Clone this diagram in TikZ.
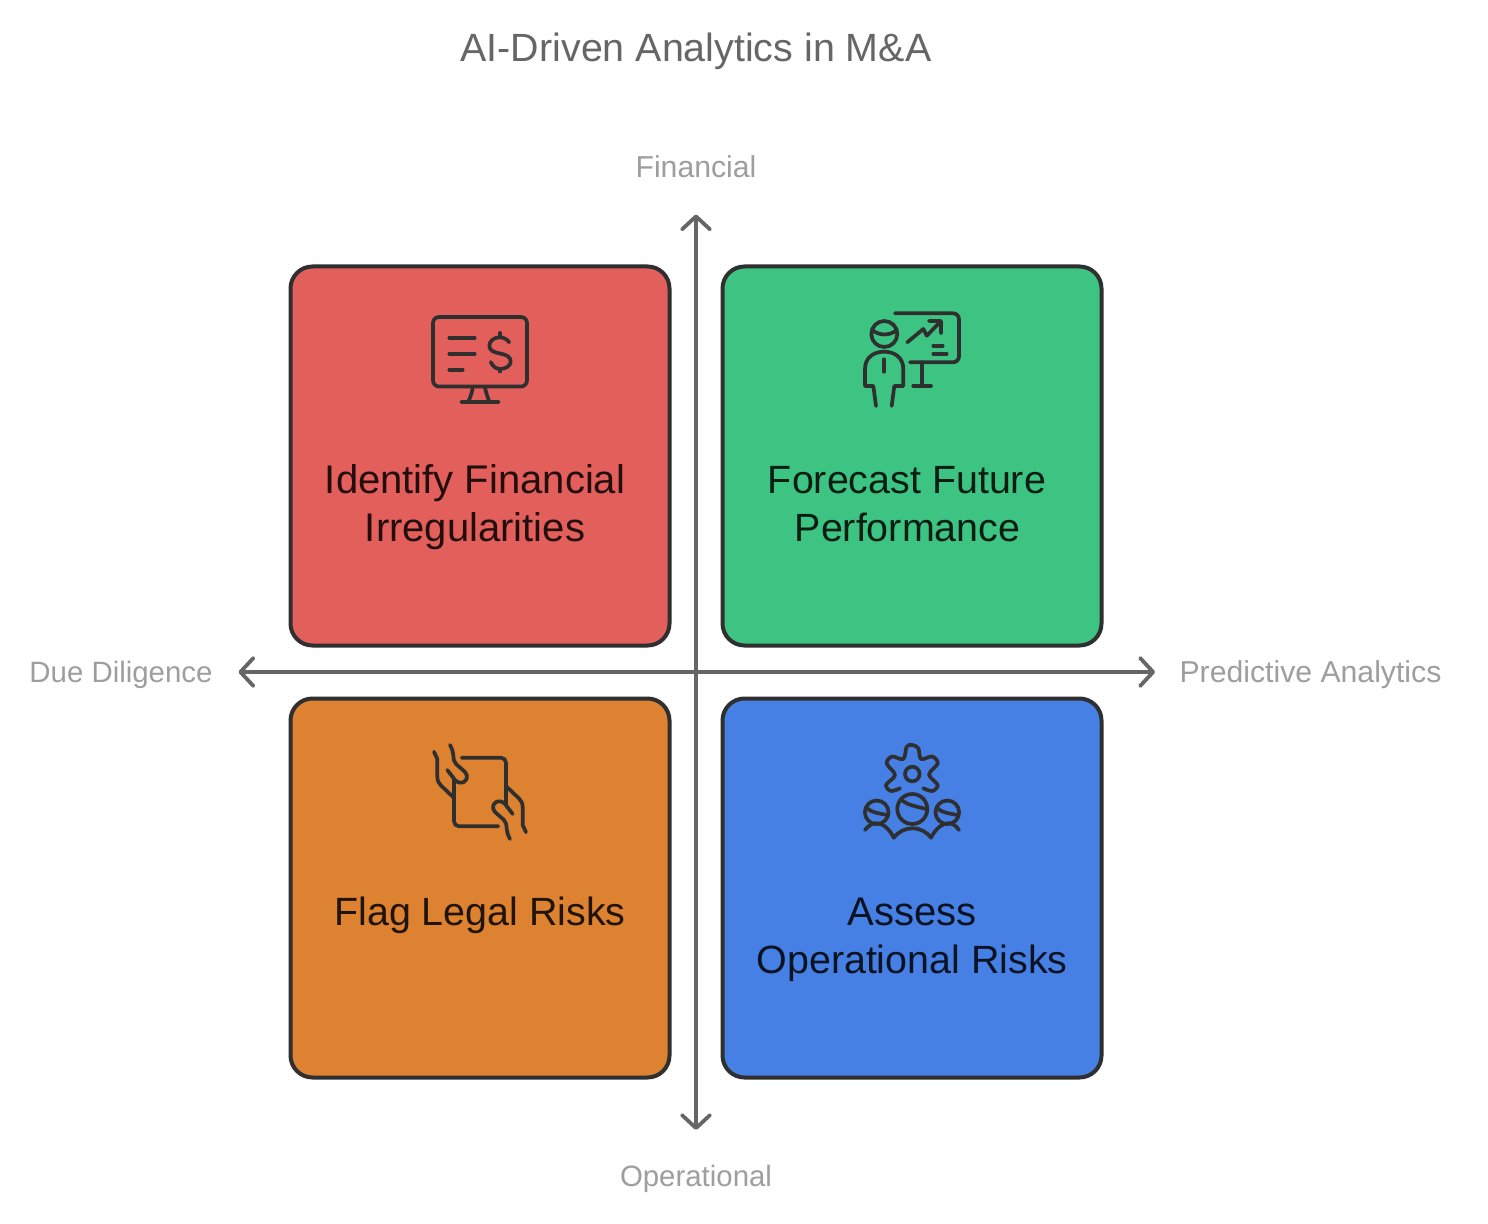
\documentclass[tikz,border=0pt]{standalone}
\usepackage{fontspec}
\setmainfont{Liberation Sans}
\usetikzlibrary{arrows.meta}
\definecolor{axisc}{HTML}{666666}
\definecolor{labelc}{HTML}{9E9E9E}
\definecolor{inkc}{HTML}{2F2F2F}
\definecolor{redc}{HTML}{E35F5B}
\definecolor{greenc}{HTML}{3DC482}
\definecolor{orangec}{HTML}{DC8231}
\definecolor{bluec}{HTML}{4680E4}
\tikzset{
  x=0.5pt,y=-0.5pt,
  card/.style={draw=inkc,line width=2pt,rounded corners=11pt,minimum width=189.5pt,minimum height=189.5pt,inner sep=0pt},
  cardtext/.style={anchor=base,inner sep=0pt,font=\fontsize{20}{24}\selectfont,text=black,text opacity=.85},
  cardtextb/.style={cardtext,font=\fontsize{19.7}{24}\selectfont},
  axislabel/.style={anchor=base,inner sep=0pt,font=\fontsize{14.7}{18}\selectfont,text=labelc},
  axislabelb/.style={axislabel,font=\fontsize{15.1}{18}\selectfont},
  titletext/.style={anchor=base,inner sep=0pt,font=\fontsize{19.7}{24}\selectfont,text=axisc},
  axisline/.style={draw=axisc,line width=1.9pt,{Straight Barb[length=6.5pt,width=14pt,round]}-{Straight Barb[length=6.5pt,width=14pt,round]}},
  icon/.style={draw=inkc,line width=1.85pt,line cap=round,line join=round}
}
\begin{document}
\begin{tikzpicture}
\useasboundingbox[fill=white] (0,0) rectangle (1488,1224);
\node[card,fill=redc] (cardA) at (480,456) {};
\node[card,fill=greenc] (cardB) at (912,456) {};
\node[card,fill=orangec] (cardC) at (480,888) {};
\node[card,fill=bluec] (cardD) at (912,888) {};
\coordinate (axisT) at (696,214.5);
\coordinate (axisB) at (696,1130);
\coordinate (axisL) at (238.5,672);
\coordinate (axisR) at (1155,672);
\draw[axisline] (axisB) -- (axisT);
\draw[axisline] (axisL) -- (axisR);
\node[titletext] (title) at (696,61.5) {AI-Driven Analytics in M\&A};
\node[axislabelb] (lblT) at (696,178) {Financial};
\node[axislabel] (lblB) at (696,1186) {Operational};
\node[axislabel] (lblL) at (121,682) {Due Diligence};
\node[axislabelb] (lblR) at (1310.5,682) {Predictive Analytics};
\node[cardtext] (tA1) at (475,493.5) {Identify Financial};
\node[cardtext] (tA2) at (475,541.5) {Irregularities};
\node[cardtextb] (tB1) at (907,493.5) {Forecast Future};
\node[cardtextb] (tB2) at (907.5,541.5) {Performance};
\node[cardtextb] (tC1) at (480,925.5) {Flag Legal Risks};
\node[cardtext] (tD1) at (912,925.5) {Assess};
\node[cardtextb] (tD2) at (912,973.5) {Operational Risks};
% monitor icon
\draw[icon,rounded corners=3pt] (433,317) rectangle (527,386.5);
\draw[icon] (449.3,337.7) -- (474.7,337.7) (449.3,353.7) -- (474.7,353.7) (449.3,369.7) -- (462.7,369.7);
\draw[icon] (509.3,342.3) .. controls (507,339) and (503,337.3) .. (500,337.3) .. controls (494,337.3) and (489.3,341) .. (489.3,346) .. controls (489.3,351) and (495,352.5) .. (500,353.5) .. controls (506,354.7) and (510.7,356.5) .. (510.7,361.5) .. controls (510.7,366) and (505.5,369) .. (500,369) .. controls (496,369) and (492.5,366) .. (490.7,362);
\draw[icon] (500,333) -- (500,337.3) (500,369) -- (500,371.5);
\draw[icon] (472.7,387.5) .. controls (472,393) and (470,398) .. (468.3,401.7) (485,387.5) .. controls (486,393) and (488,398) .. (489.3,401.7) (461.3,402) -- (498.7,402);
% presenter icon
\draw[icon,rounded corners=3pt] (895,313.3) -- (959,313.3) -- (959,362.3) -- (910,362.3);
\draw[icon] (921.7,362.3) -- (921.7,385.7) (913.3,385.7) -- (931,385.7);
\draw[icon] (907.3,342.3) -- (923.3,329) -- (926.7,335.7) -- (940,322.3) (929,321) -- (941,321) -- (941,333.3);
\draw[icon] (933.3,345.7) -- (942.7,345.7) (933.3,353.7) -- (946.7,353.7);
\draw[icon] (884.3,334) circle[radius=6.5pt];
\draw[icon] (872,330) .. controls (880,336) and (889,336) .. (897,330);
\draw[icon] (876,406) -- (873.3,386) -- (865,386) -- (865,369) .. controls (865,358) and (873,351.7) .. (884.3,351.7) .. controls (895,351.7) and (903.3,358) .. (903.3,369) -- (903.3,386) -- (894.3,386) -- (891.7,406);
\draw[icon] (884,359.3) -- (884,371.7);
% document with hands icon
\foreach \r in {0,180}{
\begin{scope}[rotate around={\r:(480,792)}]
\draw[icon] (461.7,757.7) -- (501,757.7) .. controls (504,757.7) and (506,760) .. (506,763) -- (506,805);
\draw[icon] (434,751.7) -- (437.3,759) -- (437.3,776.7) .. controls (437.3,781) and (439,783.5) .. (441,785.5) -- (453.3,797.3);
\draw[icon] (450,745) .. controls (452,749) and (453.3,752) .. (453.3,755) .. controls (453.5,759) and (453.8,761.5) .. (456,764) -- (465,772) .. controls (469,776) and (467,783) .. (460,782.7) .. controls (458,782.5) and (456.5,781.5) .. (455,780) -- (447.3,770);
\end{scope}}
% team and gear icon
\draw[icon] plot[smooth,tension=.55] coordinates {(900,788.3) (891,791) (886,785) (895,775) (886.7,763.5) (892,756.5) (903.3,759) (906.7,746.7) (912.3,745) (918.3,748.3) (921,759) (932.3,756.5) (937.7,763.5) (929,774.5) (937.7,785) (932.3,791) (923.3,788.3)};
\draw[icon] (912.3,774) circle[radius=3.65pt];
\draw[icon] (912.3,809) circle[radius=7.5pt];
\draw[icon] (876.7,812.3) circle[radius=5.9pt];
\draw[icon] (947.3,812.3) circle[radius=5.9pt];
\draw[icon] (901,799) .. controls (906,805) and (915,806) .. (926,809);
\draw[icon] (866.5,808) .. controls (872,813) and (880,813.5) .. (887.5,815);
\draw[icon] (937,808) .. controls (942,813) and (950,813.5) .. (957.5,815);
\draw[icon] (865,830) .. controls (868,826) and (872,823.3) .. (876,823.3) .. controls (884,823.3) and (890,830) .. (893.7,837.7) .. controls (898,832) and (905,828.3) .. (912.3,828.3) .. controls (920,828.3) and (927,832) .. (931,837.7) .. controls (935,830) and (941,823.3) .. (949,823.3) .. controls (953,823.3) and (956,826) .. (959,830);
\end{tikzpicture}
\end{document}
